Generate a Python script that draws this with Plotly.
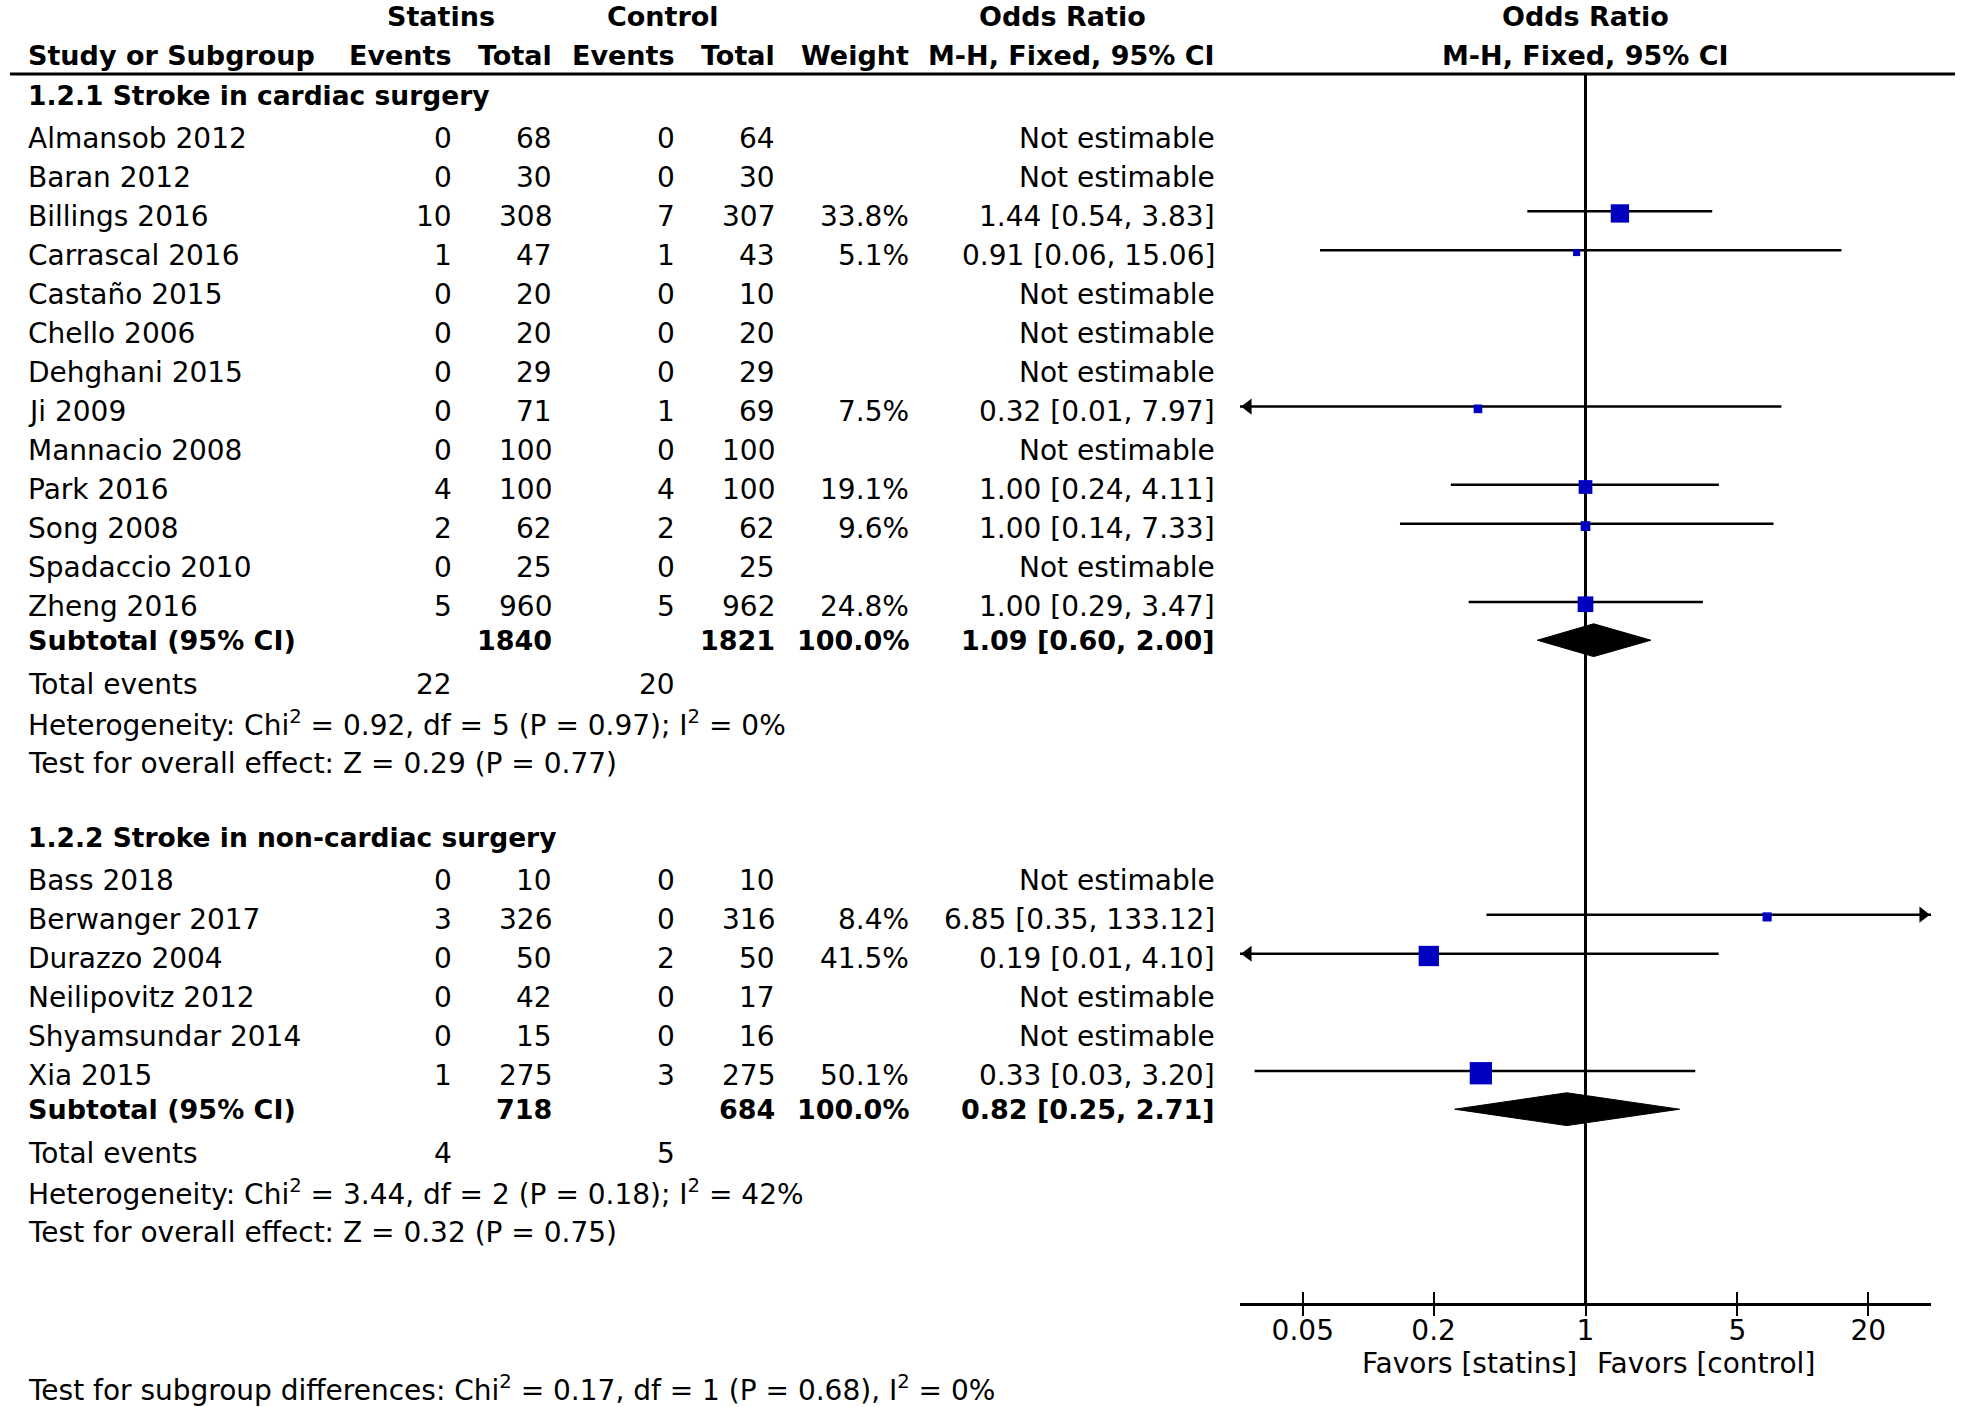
import math
import plotly.graph_objects as go

# ------------------------------------------------------------------ data
col_head_top = ["Statins", "Control", "Odds Ratio", "Odds Ratio"]
col_head_sub = ["Study or Subgroup", "Events", "Total", "Events", "Total",
                "Weight", "M-H, Fixed, 95% CI", "M-H, Fixed, 95% CI"]

sub1_title = "1.2.1 Stroke in cardiac surgery"
sub1_study = ["Almansob 2012", "Baran 2012", "Billings 2016", "Carrascal 2016",
              "Castaño 2015", "Chello 2006", "Dehghani 2015", "Ji 2009",
              "Mannacio 2008", "Park 2016", "Song 2008", "Spadaccio 2010",
              "Zheng 2016"]
sub1_ev_s = [0, 0, 10, 1, 0, 0, 0, 0, 0, 4, 2, 0, 5]
sub1_n_s = [68, 30, 308, 47, 20, 20, 29, 71, 100, 100, 62, 25, 960]
sub1_ev_c = [0, 0, 7, 1, 0, 0, 0, 1, 0, 4, 2, 0, 5]
sub1_n_c = [64, 30, 307, 43, 10, 20, 29, 69, 100, 100, 62, 25, 962]
sub1_weight = [None, None, 33.8, 5.1, None, None, None, 7.5, None, 19.1, 9.6, None, 24.8]
sub1_or = [None, None, 1.44, 0.91, None, None, None, 0.32, None, 1.00, 1.00, None, 1.00]
sub1_lo = [None, None, 0.54, 0.06, None, None, None, 0.01, None, 0.24, 0.14, None, 0.29]
sub1_hi = [None, None, 3.83, 15.06, None, None, None, 7.97, None, 4.11, 7.33, None, 3.47]
sub1_total = [1840, 1821]
sub1_events = [22, 20]
sub1_pooled = [1.09, 0.60, 2.00]
sub1_het = [0.92, 5, 0.97, 0]      # Chi2, df, P, I2
sub1_z = [0.29, 0.77]              # Z, P

sub2_title = "1.2.2 Stroke in non-cardiac surgery"
sub2_study = ["Bass 2018", "Berwanger 2017", "Durazzo 2004", "Neilipovitz 2012",
              "Shyamsundar 2014", "Xia 2015"]
sub2_ev_s = [0, 3, 0, 0, 0, 1]
sub2_n_s = [10, 326, 50, 42, 15, 275]
sub2_ev_c = [0, 0, 2, 0, 0, 3]
sub2_n_c = [10, 316, 50, 17, 16, 275]
sub2_weight = [None, 8.4, 41.5, None, None, 50.1]
sub2_or = [None, 6.85, 0.19, None, None, 0.33]
sub2_lo = [None, 0.35, 0.01, None, None, 0.03]
sub2_hi = [None, 133.12, 4.10, None, None, 3.20]
sub2_total = [718, 684]
sub2_events = [4, 5]
sub2_pooled = [0.82, 0.25, 2.71]
sub2_het = [3.44, 2, 0.18, 42]
sub2_z = [0.32, 0.75]

subgroup_diff = [0.17, 1, 0.68, 0]   # Chi2, df, P, I2

tick_vals = [0.05, 0.2, 1, 5, 20]
tick_text = ["0.05", "0.2", "1", "5", "20"]
favours = ["Favors [statins]", "Favors [control]"]

groups = [
    dict(title=sub1_title, study=sub1_study, ev_s=sub1_ev_s, n_s=sub1_n_s,
         ev_c=sub1_ev_c, n_c=sub1_n_c, w=sub1_weight, est=sub1_or, lo=sub1_lo,
         hi=sub1_hi, total=sub1_total, events=sub1_events, pooled=sub1_pooled,
         het=sub1_het, z=sub1_z),
    dict(title=sub2_title, study=sub2_study, ev_s=sub2_ev_s, n_s=sub2_n_s,
         ev_c=sub2_ev_c, n_c=sub2_n_c, w=sub2_weight, est=sub2_or, lo=sub2_lo,
         hi=sub2_hi, total=sub2_total, events=sub2_events, pooled=sub2_pooled,
         het=sub2_het, z=sub2_z),
]

# ------------------------------------------------------------------ layout constants
W, H = 1961, 1407
FONT = "DejaVu Sans"
FS = 28
FSB = 27
X_LOG_RANGE = [-1.59, 1.59]
X_DOMAIN = [1240 / W, 1931 / W]
PX_PER_DEC = (X_DOMAIN[1] - X_DOMAIN[0]) * W / (X_LOG_RANGE[1] - X_LOG_RANGE[0])
Y_RANGE = [32.47, -3.531]
BLUE = "#0000C0"
NULL_LOG = math.log10(1)   # annotation position of the null line on a log axis

# column right edges (paper fraction) and left text
X_LEFT = 27 / W
X_EV_S = 453 / W
X_N_S = 553 / W
X_EV_C = 676 / W
X_N_C = 776 / W
X_WT = 910 / W
X_OR = 1216 / W
X_STATINS = 441 / W
X_CONTROL = 663 / W
X_OR_HEAD = 1062 / W

LINE_DY = -0.128
SQ_DY = -0.07
SQ_SCALE = 3.15
DIAMOND_HALF = 0.42
ARROW_SIZE = 14
ARROW_OFF = (ARROW_SIZE / 2 * 2 / math.sqrt(3)) / PX_PER_DEC

annotations = []


def txt(x, y, s, anchor="right", bold=False, xref="paper", size=None, xshift=0):
    annotations.append(dict(
        x=x, y=y, xref=xref, yref="y", text=("<b>%s</b>" % s) if bold else s,
        showarrow=False, xanchor=anchor, yanchor="middle", xshift=xshift,
        font=dict(family=FONT, size=size or (FSB if bold else FS), color="black"),
        borderpad=0))


# headers
txt(X_STATINS, -3.10, col_head_top[0], "center", True)
txt(X_CONTROL, -3.10, col_head_top[1], "center", True)
txt(X_OR_HEAD, -3.10, col_head_top[2], "center", True)
txt(NULL_LOG, -3.10, col_head_top[3], "center", True, xref="x")
txt(X_LEFT, -2.12, col_head_sub[0], "left", True)
for xc, s in zip([X_EV_S, X_N_S, X_EV_C, X_N_C, X_WT, X_OR], col_head_sub[1:7]):
    txt(xc, -2.12, s, "right", True)
txt(NULL_LOG, -2.12, col_head_sub[7], "center", True, xref="x")

ci_x, ci_y = [], []
sq_x, sq_y, sq_s = [], [], []
arrL_x, arrL_y, arrR_x, arrR_y = [], [], [], []
diamonds = []

lo_lim = 10 ** X_LOG_RANGE[0]
hi_lim = 10 ** X_LOG_RANGE[1]

r = 0.0
last = 0.0
for g in groups:
    txt(X_LEFT, r - 1.10, g["title"], "left", True, size=26.5)
    n = len(g["study"])
    for i in range(n):
        row = r + i
        txt(X_LEFT, row, g["study"][i], "left")
        txt(X_EV_S, row, str(g["ev_s"][i]))
        txt(X_N_S, row, str(g["n_s"][i]))
        txt(X_EV_C, row, str(g["ev_c"][i]))
        txt(X_N_C, row, str(g["n_c"][i]))
        if g["est"][i] is None:
            txt(X_OR, row, "Not estimable")
            continue
        txt(X_WT, row, "%.1f%%" % g["w"][i])
        txt(X_OR, row, "%.2f [%.2f, %.2f]" % (g["est"][i], g["lo"][i], g["hi"][i]))
        lo, hi = g["lo"][i], g["hi"][i]
        ylin = row + LINE_DY
        ci_x += [max(lo, lo_lim), min(hi, hi_lim), None]
        ci_y += [ylin, ylin, None]
        if lo < lo_lim:
            arrL_x.append(10 ** (X_LOG_RANGE[0] + ARROW_OFF))
            arrL_y.append(ylin)
        if hi > hi_lim:
            arrR_x.append(10 ** (X_LOG_RANGE[1] - ARROW_OFF))
            arrR_y.append(ylin)
        sq_x.append(g["est"][i])
        sq_y.append(row + SQ_DY)
        sq_s.append(SQ_SCALE * math.sqrt(g["w"][i]))
    last = r + n - 1
    rs = last + 0.85
    txt(X_LEFT, rs, "Subtotal (95% CI)", "left", True)
    txt(X_N_S, rs, str(g["total"][0]), bold=True)
    txt(X_N_C, rs, str(g["total"][1]), bold=True)
    txt(X_WT, rs, "100.0%", bold=True)
    pe, pl, ph = g["pooled"]
    txt(X_OR, rs, "%.2f [%.2f, %.2f]" % (pe, pl, ph), bold=True)
    diamonds.append(([pl, pe, ph, pe, pl], [rs, rs - DIAMOND_HALF, rs, rs + DIAMOND_HALF, rs]))
    txt(X_LEFT, last + 1.98, "Total events", "left")
    txt(X_EV_S, last + 1.98, str(g["events"][0]))
    txt(X_EV_C, last + 1.98, str(g["events"][1]))
    c2, df, p, i2 = g["het"]
    txt(X_LEFT, last + 2.99,
        "Heterogeneity: Chi<sup>2</sup> = %.2f, df = %d (P = %.2f); I<sup>2</sup> = %d%%" % (c2, df, p, i2),
        "left")
    z, pz = g["z"]
    txt(X_LEFT, last + 4.0, "Test for overall effect: Z = %.2f (P = %.2f)" % (z, pz), "left")
    r = last + 7.0

AXIS_ROW = last + 5.84
c2, df, p, i2 = subgroup_diff
txt(X_LEFT, last + 8.0,
    "Test for subgroup differences: Chi<sup>2</sup> = %.2f, df = %d (P = %.2f), I<sup>2</sup> = %d%%" % (c2, df, p, i2),
    "left")
txt(NULL_LOG, last + 7.35, favours[0], "right", xref="x", xshift=-8)
txt(NULL_LOG, last + 7.35, favours[1], "left", xref="x", xshift=10)

HEADER_LINE_ROW = -1.64

fig = go.Figure()
# null line
fig.add_trace(go.Scatter(x=[1, 1], y=[HEADER_LINE_ROW, AXIS_ROW], mode="lines",
                         line=dict(color="black", width=3), hoverinfo="skip"))
# CI lines
fig.add_trace(go.Scatter(x=ci_x, y=ci_y, mode="lines", line=dict(color="black", width=2.5),
                         hoverinfo="skip", cliponaxis=False))
# arrows
fig.add_trace(go.Scatter(x=arrL_x, y=arrL_y, mode="markers", cliponaxis=False,
                         marker=dict(symbol="triangle-left", size=ARROW_SIZE, color="black",
                                     opacity=1, line=dict(width=0)), hoverinfo="skip"))
fig.add_trace(go.Scatter(x=arrR_x, y=arrR_y, mode="markers", cliponaxis=False,
                         marker=dict(symbol="triangle-right", size=ARROW_SIZE, color="black",
                                     opacity=1, line=dict(width=0)), hoverinfo="skip"))
# squares
fig.add_trace(go.Scatter(x=sq_x, y=sq_y, mode="markers", cliponaxis=False,
                         marker=dict(symbol="square", size=sq_s, color=BLUE, opacity=1,
                                     line=dict(width=0)), hoverinfo="skip"))
# diamonds
for dx, dy in diamonds:
    fig.add_trace(go.Scatter(x=dx, y=dy, mode="lines", fill="toself", fillcolor="black",
                             line=dict(color="black", width=1), hoverinfo="skip"))
# helper trace for the overlay axis (crossing ticks)
fig.add_trace(go.Scatter(x=[1], y=[None], xaxis="x2", yaxis="y", mode="markers",
                         marker=dict(opacity=0), hoverinfo="skip"))

axis_pos = 1 - (AXIS_ROW - Y_RANGE[1]) / (Y_RANGE[0] - Y_RANGE[1])

fig.update_layout(
    width=W, height=H, margin=dict(l=0, r=0, t=0, b=0),
    paper_bgcolor="white", plot_bgcolor="rgba(0,0,0,0)", showlegend=False,
    font=dict(family=FONT, size=FS, color="black"),
    xaxis=dict(type="log", range=X_LOG_RANGE, domain=X_DOMAIN, anchor="free", position=axis_pos,
               showline=True, linecolor="black", linewidth=2.5, ticks="inside", ticklen=11,
               tickwidth=2, tickcolor="black", tickvals=tick_vals, ticktext=tick_text,
               tickfont=dict(family=FONT, size=FS, color="black"), showgrid=False,
               zeroline=False, fixedrange=True),
    xaxis2=dict(type="log", range=X_LOG_RANGE, domain=X_DOMAIN, overlaying="x", anchor="free",
                position=axis_pos, showline=False, ticks="outside", ticklen=11, tickwidth=2,
                tickcolor="black", tickvals=tick_vals, showticklabels=False, showgrid=False,
                zeroline=False, fixedrange=True),
    yaxis=dict(range=Y_RANGE, domain=[0, 1], visible=False, fixedrange=True),
    shapes=[dict(type="line", xref="paper", yref="y", x0=10 / W, x1=1955 / W,
                 y0=HEADER_LINE_ROW, y1=HEADER_LINE_ROW, line=dict(color="black", width=3))],
    annotations=annotations,
)

fig.write_html("out.html", config={"displayModeBar": False},
               post_script="document.body.style.margin='0';")
